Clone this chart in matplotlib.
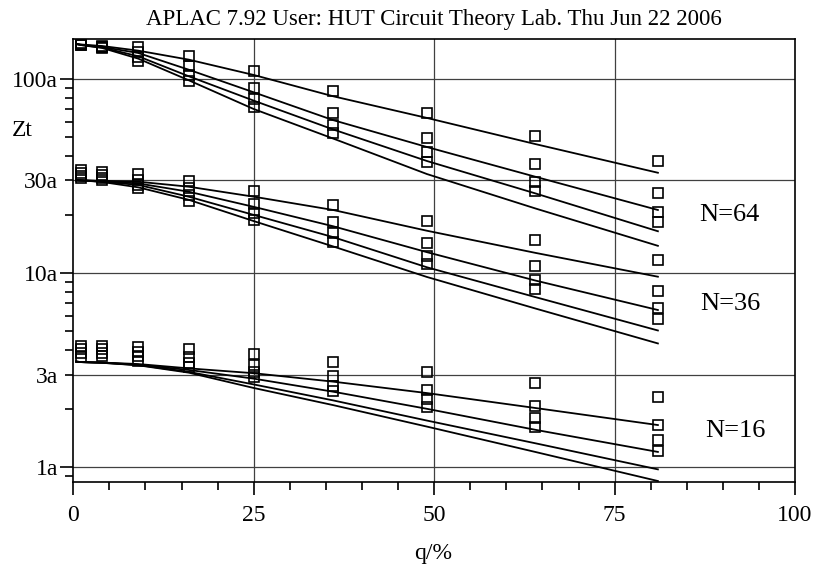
"""APLAC style plot: Zt versus q for N=16, 36 and 64."""

import matplotlib
matplotlib.use('Agg')  # no display
import matplotlib.pyplot as plt

# q values of the measured points and of the fitted curves
q_points = [1, 4, 9, 16, 25, 36, 49, 64, 81]
q_curve = [0.4, 1, 4, 9, 16, 25, 36, 49, 64, 81]

# measured Zt (units of 1e-18), four series per N
n64_pts = [
    [151.8, 146.8, 145.6, 130.4, 109.2, 86.8, 66.8, 50.7, 37.7],
    [150.0, 145.6, 136.4, 115.8, 89.6, 66.6, 49.7, 36.3, 25.7],
    [149.1, 144.7, 129.3, 104.9, 78.6, 58.0, 41.8, 29.5, 20.7],
    [148.2, 143.9, 122.9, 97.7, 71.5, 52.5, 37.4, 26.5, 18.2],
]
n36_pts = [
    [33.9, 33.1, 32.2, 29.8, 26.4, 22.4, 18.5, 14.8, 11.7],
    [32.7, 31.9, 30.1, 27.3, 22.6, 18.2, 14.2, 10.9, 8.11],
    [31.6, 30.8, 28.5, 25.2, 20.3, 16.0, 12.3, 9.20, 6.58],
    [30.7, 30.1, 27.5, 23.5, 18.7, 14.5, 11.1, 8.23, 5.81],
]
n16_pts = [
    [4.21, 4.21, 4.18, 4.06, 3.82, 3.50, 3.10, 2.70, 2.29],
    [4.04, 4.04, 3.94, 3.71, 3.36, 2.95, 2.50, 2.07, 1.65],
    [3.88, 3.88, 3.74, 3.46, 3.09, 2.62, 2.25, 1.79, 1.38],
    [3.71, 3.72, 3.54, 3.29, 2.93, 2.47, 2.04, 1.62, 1.22],
]

# fitted curves
n64_fit = [
    [150.9, 150.0, 147.3, 139.4, 125.3, 104.5, 81.2, 62.8, 46.1, 32.8],
    [150.9, 149.6, 145.6, 135.6, 111.2, 85.1, 61.2, 44.5, 31.3, 21.1],
    [150.9, 149.1, 144.7, 130.4, 102.9, 77.1, 54.8, 37.7, 25.7, 16.4],
    [150.9, 149.1, 143.9, 126.8, 98.1, 69.8, 49.2, 32.3, 21.5, 13.8],
]
n36_fit = [
    [30.1, 30.0, 29.8, 29.5, 27.8, 24.7, 21.1, 16.5, 12.7, 9.57],
    [30.1, 30.0, 29.7, 28.9, 26.2, 21.9, 17.4, 12.8, 9.15, 6.45],
    [30.1, 30.0, 29.5, 28.4, 24.7, 19.9, 15.3, 10.7, 7.52, 5.06],
    [30.1, 30.0, 29.4, 27.6, 23.8, 18.5, 13.7, 9.54, 6.57, 4.34],
]
n16_fit = [
    [3.50, 3.48, 3.46, 3.40, 3.23, 3.05, 2.76, 2.41, 2.02, 1.65],
    [3.50, 3.48, 3.46, 3.37, 3.17, 2.86, 2.45, 2.00, 1.56, 1.20],
    [3.50, 3.48, 3.45, 3.36, 3.10, 2.67, 2.21, 1.74, 1.33, 0.976],
    [3.50, 3.48, 3.45, 3.35, 3.07, 2.56, 2.09, 1.62, 1.20, 0.850],
]

group_labels = ['N=64', 'N=36', 'N=16']
label_pos = [(90.9, 19.9), (91.0, 6.93), (91.7, 1.54)]

y_major = [1, 10, 100]
y_major_labels = ['1a', '10a', '100a']
y_minor = [0.9, 2, 3, 4, 5, 6, 7, 8, 9, 20, 30, 40, 50, 60, 70, 80, 90]
y_minor_labels = ['3a' if v == 3 else '30a' if v == 30 else '' for v in y_minor]
y_grid = [1, 3, 10, 30, 100]
x_grid = [25, 50, 75]

plt.rcParams['font.family'] = ['Liberation Serif', 'DejaVu Serif']

fig = plt.figure(figsize=(8.17, 5.66), dpi=100)
ax = fig.add_axes([0.0897, 0.1489, 0.9731 - 0.0897, 0.9306 - 0.1489])
ax.set_yscale('log')
ax.set_xlim(0, 100)
ax.set_ylim(0.843, 159.5)

# grid lines
for v in y_grid:
    ax.axhline(v, color='0.25', lw=0.9, zorder=1)
for v in x_grid:
    ax.axvline(v, color='0.25', lw=0.9, zorder=1)

for pts, fits in [(n64_pts, n64_fit), (n36_pts, n36_fit), (n16_pts, n16_fit)]:
    for series in fits:
        ax.plot(q_curve, series, color='black', lw=1.3, zorder=2)
    for series in pts:
        ax.plot(q_points, series, linestyle='none', marker='s', markersize=7.2,
                markerfacecolor='none', markeredgecolor='black', mew=1.2, zorder=3)

for text, (xq, yv) in zip(group_labels, label_pos):
    ax.text(xq, yv, text, fontsize=19, ha='center', va='center')

# ticks
ax.set_xticks([0, 25, 50, 75, 100])
ax.set_xticks(range(0, 101, 5), minor=True)
ax.set_yticks(y_major, y_major_labels)
ax.set_yticks(y_minor, y_minor_labels, minor=True)
ax.tick_params(which='both', direction='out', top=False, right=False,
               labelsize=17, width=1.2, color='black')
ax.tick_params(which='major', length=9.5)
ax.tick_params(which='minor', length=5.5)
ax.tick_params(axis='y', which='major', pad=1.5)
ax.tick_params(axis='y', which='minor', pad=5.5)
ax.tick_params(axis='x', which='major', pad=7)
for sp in ax.spines.values():
    sp.set_linewidth(1.2)

# axis titles and header
fig.text(0.530, 1 - 559 / 566, 'q/%', fontsize=17, ha='center', va='baseline')
fig.text(0.027, 1 - 131 / 566, 'Zt', fontsize=17, ha='center', va='center')
fig.text(0.531, 1 - 20 / 566, 'APLAC 7.92 User: HUT Circuit Theory Lab. Thu Jun 22 2006',
         fontsize=16.5, ha='center', va='center')

fig.savefig('out.png', dpi=100)
plt.close(fig)
